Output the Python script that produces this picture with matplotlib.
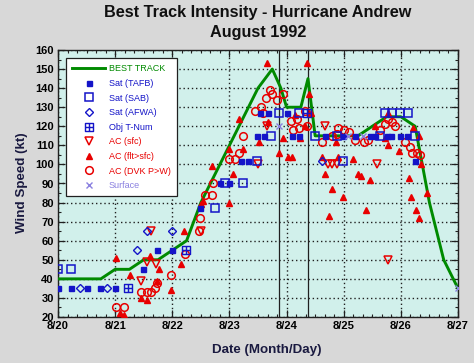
import matplotlib
matplotlib.use('Agg')
import matplotlib.pyplot as plt
from matplotlib.path import Path
from matplotlib.lines import Line2D
from matplotlib.ticker import MultipleLocator

# x values are day of August 1992, y values are wind speed in kt
bt_day = [20.0, 20.25, 20.5, 20.75, 21.0, 21.25, 21.5, 21.75, 22.0, 22.25, 22.5, 22.75,
          23.0, 23.25, 23.5, 23.75, 23.9, 24.0, 24.25, 24.375, 24.5, 24.75, 25.0, 25.25,
          25.5, 25.75, 26.0, 26.25, 26.375, 26.5, 26.75, 27.0]
bt_kt = [40, 40, 40, 40, 45, 45, 50, 50, 55, 60, 80, 95,
         110, 125, 140, 150, 140, 130, 130, 145, 115, 115, 115, 115,
         120, 125, 125, 120, 100, 80, 50, 35]

tafb_day = [20.0, 20.23, 20.5, 20.73, 21.0, 21.49, 21.74, 22.0, 22.49, 22.84, 23.0, 23.21,
            23.33, 23.48, 23.6, 23.54, 23.68, 24.0, 24.09, 24.22, 24.67, 24.99, 25.2, 25.46,
            25.55, 25.75, 25.83, 25.98, 26.11, 26.25]
tafb_kt = [35, 35, 35, 35, 35, 45, 55, 55, 77, 90, 90, 102,
           102, 115, 115, 127, 127, 127, 115, 115, 115, 115, 115, 115,
           115, 115, 115, 115, 115, 102]

sab_day = [20.0, 20.23, 22.75, 22.92, 23.24, 23.48, 23.73, 23.86, 24.22, 24.5, 24.88, 24.99,
           25.64, 26.25, 25.72, 25.84, 25.99, 26.13]
sab_kt = [45, 45, 77, 90, 90, 102, 115, 127, 127, 115, 115, 102,
          115, 115, 127, 127, 127, 127]

afwa_day = [20.38, 20.85, 21.39, 21.56, 22.0, 24.62]
afwa_kt = [35, 35, 55, 65, 65, 102]

tnum_day = [21.22, 22.24, 24.35]
tnum_kt = [35, 55, 127]

acs_day = [21.45, 21.56, 21.72, 21.62, 22.5, 23.5, 23.65, 24.67, 24.73, 24.8, 24.88, 25.59, 25.78]
acs_kt = [39, 49, 48, 65, 65, 100, 120, 120, 100, 100, 100, 100, 50]

acf_day = [21.02, 21.09, 21.16, 21.26, 21.46, 21.55, 21.61, 21.73, 21.77, 21.98, 22.15, 22.2,
           22.5, 22.54, 22.69, 22.99, 23.0, 23.07, 23.16, 23.24, 23.52, 23.65, 23.68, 23.86,
           23.93, 24.02, 24.1, 24.15, 24.24, 24.33, 24.36, 24.4, 24.42,
           24.62, 24.67, 24.75, 24.79, 24.86, 24.9, 24.99, 25.17, 25.25, 25.31, 25.46, 25.39,
           25.55, 25.72, 25.78, 25.78, 25.97, 26.14, 26.18, 26.21, 26.27, 26.31, 26.32, 26.35, 26.45]
acf_kt = [51, 22, 21, 42, 30, 29, 52, 39, 45, 34, 48, 65,
          79, 81, 99, 80, 108, 95, 124, 108, 112, 153, 122, 106,
          114, 104, 104, 126, 114, 120, 153, 137, 127,
          104, 95, 73, 87, 112, 104, 83, 103, 95, 94, 92, 76,
          120, 114, 110, 127, 107, 93, 83, 119, 76, 115, 72, 100, 85]

dvk_day = [21.02, 21.16, 21.46, 21.55, 21.62, 21.7, 21.73, 21.97, 22.23, 22.47, 22.49, 22.57,
           22.69, 22.72, 23.0, 23.1, 23.16, 23.23, 23.45, 23.56, 23.58, 23.64, 23.71, 23.74,
           23.84, 23.94, 24.07, 24.12, 24.19, 24.22, 24.32, 24.35,
           24.62, 24.79, 24.88, 24.9, 25.0, 25.1, 25.2, 25.35, 25.43, 25.64, 25.72, 25.78,
           25.84, 25.9, 26.07, 26.16, 26.19, 26.28, 26.34]
dvk_kt = [25, 25, 33, 33, 33, 35, 38, 42, 53, 65, 72, 84,
          84, 90, 103, 103, 106, 115, 128, 130, 127, 135, 139, 137,
          134, 137, 123, 118, 124, 119, 128, 120,
          112, 115, 116, 119, 118, 117, 113, 112, 113, 118, 121, 124,
          122, 120, 112, 109, 106, 106, 105]

sfc_day = [23.87, 25.08, 25.34, 27.0]
sfc_kt = [120, 115, 115, 35]

days = [20, 21, 22, 23, 24, 25, 26, 27]
day_labels = ['8/20', '8/21', '8/22', '8/23', '8/24', '8/25', '8/26', '8/27']
landfalls = [23.875, 24.375]

blue = '#1414c8'
red = '#e80000'
green = '#008a00'

plt.rcParams['font.family'] = ['Liberation Sans', 'DejaVu Sans']

fig = plt.figure(figsize=(4.74, 3.63), dpi=100, facecolor='#d8d8d8')
ax = fig.add_axes([58 / 474, 46 / 363, 400 / 474, 267 / 363])
ax.set_facecolor('#d1f0eb')

ax.grid(True, which='major', color='#202020', linestyle=(0, (1, 2)), linewidth=1.0)
for d in landfalls:
    ax.axvline(d, color='#202020', linewidth=0.9)

ax.plot(bt_day, bt_kt, color=green, linewidth=2.1, zorder=3)

# square with a cross in it for the objective T numbers
tnum_marker = Path([(-1, -1), (1, -1), (1, 1), (-1, 1), (-1, -1), (0, -1), (0, 1), (-1, 0), (1, 0)],
                   [Path.MOVETO, Path.LINETO, Path.LINETO, Path.LINETO, Path.CLOSEPOLY,
                    Path.MOVETO, Path.LINETO, Path.MOVETO, Path.LINETO])

ax.plot(acf_day, acf_kt, '^', color=red, ms=5, zorder=4)
ax.plot(dvk_day, dvk_kt, 'o', mfc='none', mec=red, mew=1.1, ms=5.5, zorder=4)
ax.plot(acs_day, acs_kt, 'v', mfc='none', mec=red, mew=1.1, ms=5.5, zorder=4)
ax.plot(tafb_day, tafb_kt, 's', color=blue, ms=3.6, zorder=5)
ax.plot(sab_day, sab_kt, 's', mfc='none', mec=blue, mew=1.1, ms=5.5, zorder=5)
ax.plot(afwa_day, afwa_kt, 'D', mfc='none', mec=blue, mew=1.0, ms=4.2, zorder=5)
ax.plot(tnum_day, tnum_kt, marker=tnum_marker, ls='none', mfc='none', mec=blue, mew=1.0, ms=5.5, zorder=5)
ax.plot(sfc_day, sfc_kt, 'x', color='#8a80e0', mew=1.0, ms=5, zorder=5)

ax.set_xlim(20, 27)
ax.set_ylim(20, 160)
ax.set_xticks(days)
ax.set_xticklabels(day_labels)
ax.xaxis.set_minor_locator(MultipleLocator(1 / 6))
ax.yaxis.set_major_locator(MultipleLocator(10))
ax.yaxis.set_minor_locator(MultipleLocator(5))
ax.tick_params(which='both', direction='in', top=True, right=True, colors='#202020')
ax.tick_params(which='major', length=5, width=0.9, labelsize=8, pad=3)
ax.tick_params(which='minor', length=2.5, width=0.8)
for lab in ax.get_xticklabels() + ax.get_yticklabels():
    lab.set_fontweight('bold')
    lab.set_color('black')
for s in ax.spines.values():
    s.set_linewidth(1.0)
    s.set_color('#202020')

fig.text(258 / 474, 1 - 13 / 363, 'Best Track Intensity - Hurricane Andrew', ha='center', va='center',
         fontsize=11.7, fontweight='bold', color='#101010')
fig.text(258 / 474, 1 - 33 / 363, 'August 1992', ha='center', va='center',
         fontsize=11.7, fontweight='bold', color='#101010')
fig.text(22 / 474, 1 - 183 / 363, 'Wind Speed (kt)', ha='center', va='center', rotation=90,
         fontsize=9.6, fontweight='bold', color='#1a1a40')
fig.text(267 / 474, 1 - 350 / 363, 'Date (Month/Day)', ha='center', va='center',
         fontsize=9.6, fontweight='bold', color='#1a1a40')

handles = [
    Line2D([], [], color=green, lw=2.1),
    Line2D([], [], marker='s', ls='none', color=blue, ms=3.6),
    Line2D([], [], marker='s', ls='none', mfc='none', mec=blue, mew=1.1, ms=5.5),
    Line2D([], [], marker='D', ls='none', mfc='none', mec=blue, mew=1.0, ms=4.2),
    Line2D([], [], marker=tnum_marker, ls='none', mfc='none', mec=blue, mew=1.0, ms=5.5),
    Line2D([], [], marker='v', ls='none', mfc='none', mec=red, mew=1.1, ms=5.5),
    Line2D([], [], marker='^', ls='none', color=red, ms=5),
    Line2D([], [], marker='o', ls='none', mfc='none', mec=red, mew=1.1, ms=5.5),
    Line2D([], [], marker='x', ls='none', color='#8a80e0', mew=1.0, ms=5),
]
labels = ['BEST TRACK', 'Sat (TAFB)', 'Sat (SAB)', 'Sat (AFWA)', 'Obj T-Num',
          'AC (sfc)', 'AC (flt>sfc)', 'AC (DVK P>W)', 'Surface']
text_colors = [green, blue, blue, blue, blue, red, red, red, '#8a80e0']
leg = ax.legend(handles, labels, loc='upper left', bbox_to_anchor=(0.02, 0.97), borderaxespad=0,
                fontsize=6.5, handlelength=3.6, handletextpad=0.45, labelspacing=0.62,
                borderpad=0.7, fancybox=False, framealpha=1, edgecolor='#202020')
leg.get_frame().set_linewidth(0.9)
leg.set_zorder(10)
for t, c in zip(leg.get_texts(), text_colors):
    t.set_color(c)

fig.savefig('out.png', dpi=100, facecolor=fig.get_facecolor())
